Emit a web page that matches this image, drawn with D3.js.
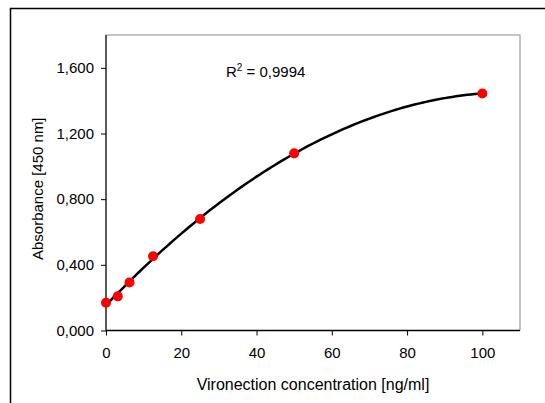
<!DOCTYPE html>
<html><head><meta charset="utf-8">
<script src="https://cdnjs.cloudflare.com/ajax/libs/d3/7.8.5/d3.min.js"></script>
<style>body{margin:0;background:#fff}svg{display:block}text{font-family:"Liberation Sans",Arial,sans-serif;fill:#000}</style>
</head><body><svg id="c" width="545" height="403"></svg>
<script>
const concentrations = [0, 3.125, 6.25, 12.5, 25, 50, 100];
const absorbance = [0.169, 0.208, 0.293, 0.452, 0.679, 1.079, 1.444];
const xTicks = [0, 20, 40, 60, 80, 100];
const yTicks = [0, 0.4, 0.8, 1.2, 1.6];
const rSquaredLabel = "0,9994";

const svg = d3.select("#c");
const L = 106, R = 520, T = 35, B = 330.5;
const x = d3.scaleLinear().domain([0, 110]).range([L, R]);
const y = d3.scaleLinear().domain([0, 1.8]).range([B, T]);

// outer frame
svg.append("rect").attr("x", 10.5).attr("y", 8.5).attr("width", 560).attr("height", 420)
  .attr("fill", "none").attr("stroke", "#000").attr("stroke-width", 1.5);

// plot frame top/right gray
svg.append("path").attr("d", `M${L},${T}H${R}V${B}`).attr("fill", "none")
  .attr("stroke", "#b3b3b3").attr("stroke-width", 1.5);

const fmt = v => d3.format(".3f")(v).replace(".", ",");
const yAxis = svg.append("g").attr("transform", `translate(${L},0)`)
  .call(d3.axisLeft(y).tickValues(yTicks).tickSize(5).tickPadding(7).tickFormat(fmt));
const xAxis = svg.append("g").attr("transform", `translate(0,${B})`)
  .call(d3.axisBottom(x).tickValues(xTicks).tickSize(5).tickPadding(12).tickFormat(d3.format("d")));
[xAxis, yAxis].forEach(g => {
  g.select(".domain").attr("stroke", "#000").attr("stroke-width", 1.3);
  g.selectAll(".tick line").attr("stroke", "#000");
  g.selectAll("text").style("font-size", "15px").attr("fill", "#000")
    .style("font-family", '"Liberation Sans",Arial,sans-serif');
});
xAxis.select(".domain").attr("d", `M${L},0H${R}`);
yAxis.select(".domain").attr("d", `M0,${B}V${T}`);

// quadratic least-squares fit of the data
function quadFit(xs, ys) {
  const n = xs.length; let S = [0,0,0,0,0], Sy = [0,0,0];
  for (let i = 0; i < n; i++) { let p = 1; for (let k = 0; k < 5; k++) { S[k] += p; if (k < 3) Sy[k] += p * ys[i]; p *= xs[i]; } }
  const M = [[S[0],S[1],S[2],Sy[0]],[S[1],S[2],S[3],Sy[1]],[S[2],S[3],S[4],Sy[2]]];
  for (let i = 0; i < 3; i++) { for (let j = i+1; j < 3; j++) { const f = M[j][i]/M[i][i]; for (let k = i; k < 4; k++) M[j][k] -= f*M[i][k]; } }
  const c = [0,0,0];
  for (let i = 2; i >= 0; i--) { let s = M[i][3]; for (let k = i+1; k < 3; k++) s -= M[i][k]*c[k]; c[i] = s/M[i][i]; }
  return c;
}
const c = quadFit(concentrations, absorbance);
const fitPts = d3.range(0, 100.01, 1).map(v => [v, c[0] + c[1]*v + c[2]*v*v]);
svg.append("path").datum(fitPts).attr("fill", "none").attr("stroke", "#000").attr("stroke-width", 2.5)
  .attr("d", d3.line().x(d => x(d[0])).y(d => y(d[1])));

svg.selectAll("circle.pt").data(concentrations).enter().append("circle")
  .attr("cx", d => x(d)).attr("cy", (d, i) => y(absorbance[i])).attr("r", 5)
  .attr("fill", "#ff0000");

// R^2 label
const rt = svg.append("text").attr("x", 226).attr("y", 77).style("font-size", "15px");
rt.append("tspan").text("R");
rt.append("tspan").attr("dy", -6).style("font-size", "10px").text("2");
rt.append("tspan").attr("dy", 6).text(" = " + rSquaredLabel);

svg.append("text").attr("x", (L + R) / 2).attr("y", 390).attr("text-anchor", "middle")
  .style("font-size", "16px").text("Vironection concentration [ng/ml]");
svg.append("text").attr("transform", `translate(43,${(T + B) / 2 + 6}) rotate(-90)`)
  .attr("text-anchor", "middle").style("font-size", "15px").text("Absorbance [450 nm]");
</script></body></html>
